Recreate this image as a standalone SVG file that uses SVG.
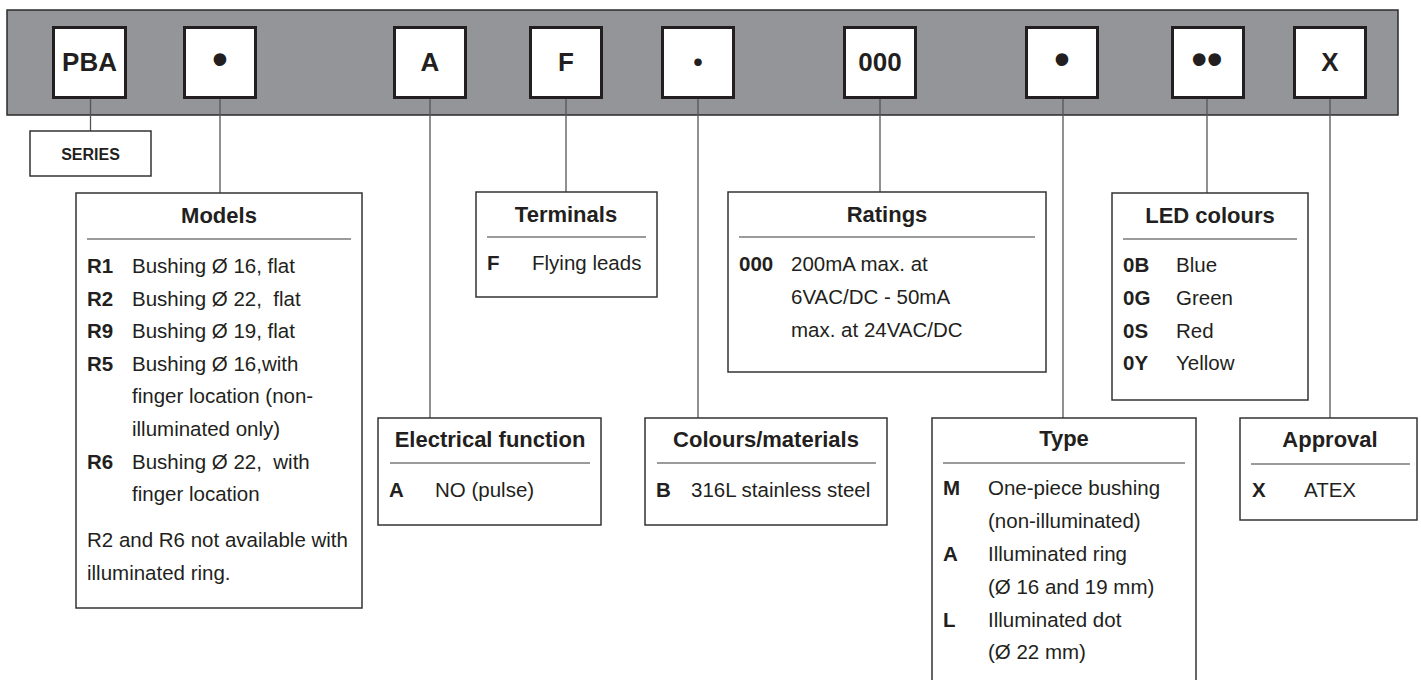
<svg xmlns="http://www.w3.org/2000/svg" width="1421" height="680" viewBox="0 0 1421 680">
<style>
.bar{fill:#939598;stroke:#2b2b2b;stroke-width:1.5}
.key{fill:#fff;stroke:#231f20;stroke-width:3}
.keyt{font-family:"Liberation Sans",Arial,sans-serif;font-weight:bold;font-size:26px;text-anchor:middle;fill:#231f20}
.dot{font-family:"Liberation Sans",Arial,sans-serif;font-weight:bold;font-size:44px;text-anchor:middle;fill:#231f20}
.mdot{font-family:Lato,"Liberation Sans",sans-serif;font-weight:bold;font-size:40px;text-anchor:middle;fill:#231f20}
.box{fill:#fff;stroke:#333;stroke-width:1.5}
.sep{stroke:#7a7a7a;stroke-width:1.5}
.title{font-family:"Liberation Sans",Arial,sans-serif;font-weight:bold;font-size:22px;text-anchor:middle;fill:#231f20}
.code{font-family:"Liberation Sans",Arial,sans-serif;font-weight:bold;font-size:20.5px;fill:#231f20}
.txt{font-family:"Liberation Sans",Arial,sans-serif;font-size:20.5px;fill:#231f20;white-space:pre}
.series{font-family:"Liberation Sans",Arial,sans-serif;font-weight:bold;font-size:16px;text-anchor:middle;fill:#231f20}
.conn line{stroke:#555;stroke-width:1.3}
</style>

<g id="bar">
<rect class="bar" x="7" y="10" width="1391" height="105"/>
</g>

<g id="connectors" class="conn">
<line x1="90.5" y1="99" x2="90.5" y2="131"/>
<line x1="220" y1="99" x2="220" y2="193"/>
<line x1="430" y1="99" x2="430" y2="418"/>
<line x1="566" y1="99" x2="566" y2="192"/>
<line x1="698" y1="99" x2="698" y2="418"/>
<line x1="880" y1="99" x2="880" y2="192"/>
<line x1="1063" y1="99" x2="1063" y2="418"/>
<line x1="1207" y1="99" x2="1207" y2="193"/>
<line x1="1330" y1="99" x2="1330" y2="418"/>
</g>

<g id="key-pba"><rect class="key" x="53.5" y="27.5" width="72" height="70"/><text class="keyt" x="89.5" y="70.5">PBA</text></g>
<g id="key-model"><rect class="key" x="184.5" y="27.5" width="71" height="70"/><text class="dot" x="220" y="74">•</text></g>
<g id="key-a"><rect class="key" x="394.5" y="27.5" width="71" height="70"/><text class="keyt" x="430" y="70.5">A</text></g>
<g id="key-f"><rect class="key" x="530.5" y="27.5" width="71" height="70"/><text class="keyt" x="566" y="70.5">F</text></g>
<g id="key-colour"><rect class="key" x="662.5" y="27.5" width="71" height="70"/><text class="mdot" x="698" y="74">·</text></g>
<g id="key-000"><rect class="key" x="844.5" y="27.5" width="71" height="70"/><text class="keyt" x="880" y="70.5">000</text></g>
<g id="key-type"><rect class="key" x="1026.5" y="27.5" width="71" height="70"/><text class="dot" x="1062" y="74">•</text></g>
<g id="key-led"><rect class="key" x="1172.5" y="27.5" width="71" height="70"/><text class="dot" x="1207" y="74">••</text></g>
<g id="key-x"><rect class="key" x="1294.5" y="27.5" width="71" height="70"/><text class="keyt" x="1330" y="70.5">X</text></g>

<g id="series">
<rect class="box" x="30" y="131" width="121" height="45"/>
<text class="series" x="90.5" y="159.5">SERIES</text>
</g>

<g id="models">
<rect class="box" x="76" y="193" width="286" height="415"/>
<text class="title" x="219" y="223">Models</text>
<line class="sep" x1="87" y1="239" x2="351" y2="239"/>
<text class="code" x="87" y="273">R1</text><text class="txt" x="132" y="273">Bushing Ø 16, flat</text>
<text class="code" x="87" y="305.5">R2</text><text class="txt" x="132" y="305.5">Bushing Ø 22,  flat</text>
<text class="code" x="87" y="338">R9</text><text class="txt" x="132" y="338">Bushing Ø 19, flat</text>
<text class="code" x="87" y="370.5">R5</text><text class="txt" x="132" y="370.5">Bushing Ø 16,with</text>
<text class="txt" x="132" y="403">finger location (non-</text>
<text class="txt" x="132" y="436">illuminated only)</text>
<text class="code" x="87" y="468.5">R6</text><text class="txt" x="132" y="468.5">Bushing Ø 22,  with</text>
<text class="txt" x="132" y="501">finger location</text>
<text class="txt" x="87" y="547">R2 and R6 not available with</text>
<text class="txt" x="87" y="580">illuminated ring.</text>
</g>

<g id="terminals">
<rect class="box" x="476" y="192" width="181" height="105"/>
<text class="title" x="566" y="222">Terminals</text>
<line class="sep" x1="487" y1="237" x2="646" y2="237"/>
<text class="code" x="487" y="270">F</text><text class="txt" x="532" y="270">Flying leads</text>
</g>

<g id="ratings">
<rect class="box" x="728" y="192" width="318" height="180"/>
<text class="title" x="887" y="222">Ratings</text>
<line class="sep" x1="739" y1="237" x2="1035" y2="237"/>
<text class="code" x="739" y="271">000</text>
<text class="txt" x="791" y="271">200mA max. at</text>
<text class="txt" x="791" y="304">6VAC/DC - 50mA</text>
<text class="txt" x="791" y="337">max. at 24VAC/DC</text>
</g>

<g id="led-colours">
<rect class="box" x="1112" y="193" width="196" height="207"/>
<text class="title" x="1210" y="223">LED colours</text>
<line class="sep" x1="1123" y1="239" x2="1297" y2="239"/>
<text class="code" x="1123" y="272">0B</text><text class="txt" x="1176" y="272">Blue</text>
<text class="code" x="1123" y="305">0G</text><text class="txt" x="1176" y="305">Green</text>
<text class="code" x="1123" y="338">0S</text><text class="txt" x="1176" y="338">Red</text>
<text class="code" x="1123" y="370">0Y</text><text class="txt" x="1176" y="370">Yellow</text>
</g>

<g id="electrical-function">
<rect class="box" x="378" y="418" width="223" height="107"/>
<text class="title" x="490" y="447">Electrical function</text>
<line class="sep" x1="390" y1="463" x2="590" y2="463"/>
<text class="code" x="389" y="497">A</text><text class="txt" x="435" y="497">NO (pulse)</text>
</g>

<g id="colours-materials">
<rect class="box" x="645" y="418" width="242" height="107"/>
<text class="title" x="766" y="447">Colours/materials</text>
<line class="sep" x1="657" y1="463" x2="876" y2="463"/>
<text class="code" x="656" y="497">B</text><text class="txt" x="691" y="497">316L stainless steel</text>
</g>

<g id="type">
<rect class="box" x="932" y="418" width="264" height="280"/>
<text class="title" x="1064" y="446">Type</text>
<line class="sep" x1="943" y1="463" x2="1185" y2="463"/>
<text class="code" x="943" y="495">M</text><text class="txt" x="988" y="495">One-piece bushing</text>
<text class="txt" x="988" y="528">(non-illuminated)</text>
<text class="code" x="943" y="561">A</text><text class="txt" x="988" y="561">Illuminated ring</text>
<text class="txt" x="988" y="594">(Ø 16 and 19 mm)</text>
<text class="code" x="943" y="627">L</text><text class="txt" x="988" y="627">Illuminated dot</text>
<text class="txt" x="988" y="659">(Ø 22 mm)</text>
</g>

<g id="approval">
<rect class="box" x="1240" y="418" width="177" height="102"/>
<text class="title" x="1330" y="447">Approval</text>
<line class="sep" x1="1251" y1="464" x2="1410" y2="464"/>
<text class="code" x="1252" y="497">X</text><text class="txt" x="1304" y="497">ATEX</text>
</g>
</svg>
